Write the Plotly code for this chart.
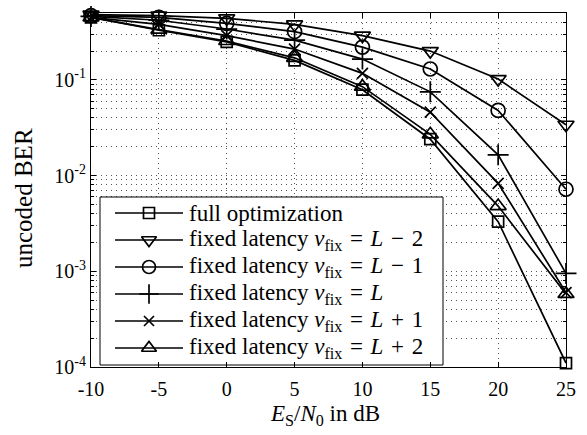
import plotly.graph_objects as go
import numpy as np

# ---------------- data ----------------
snr_db = [-10, -5, 0, 5, 10, 15, 20, 25]
ber_full_opt = [0.45, 0.33, 0.25, 0.16, 0.079, 0.024, 0.0033, 0.00011]
ber_lm2 = [0.48, 0.47, 0.44, 0.38, 0.29, 0.20, 0.102, 0.034]
ber_lm1 = [0.47, 0.45, 0.39, 0.32, 0.22, 0.13, 0.048, 0.0072]
ber_l = [0.46, 0.42, 0.34, 0.26, 0.165, 0.075, 0.0165, 0.00095]
ber_lp1 = [0.45, 0.38, 0.29, 0.21, 0.117, 0.046, 0.0083, 0.0006]
ber_lp2 = [0.45, 0.335, 0.255, 0.17, 0.085, 0.027, 0.0048, 0.00058]

SP = "\u2004"  # three-per-em space (math-like spacing)
series_names = [
    "full optimization",
    f"fixed latency <i>ν</i><sub>fix</sub>{SP}={SP}<i>L</i>{SP}−{SP}2",
    f"fixed latency <i>ν</i><sub>fix</sub>{SP}={SP}<i>L</i>{SP}−{SP}1",
    f"fixed latency <i>ν</i><sub>fix</sub>{SP}={SP}<i>L</i>",
    f"fixed latency <i>ν</i><sub>fix</sub>{SP}={SP}<i>L</i>{SP}+{SP}1",
    f"fixed latency <i>ν</i><sub>fix</sub>{SP}={SP}<i>L</i>{SP}+{SP}2",
]
series_values = [ber_full_opt, ber_lm2, ber_lm1, ber_l, ber_lp1, ber_lp2]
series_symbols = ["square-open", "triangle-down-open", "circle-open",
                  "cross-thin-open", "x-thin-open", "triangle-up-open"]
series_sizes = [11, 14, 14, 15, 11, 14]
legend_sizes = [11, 13, 13, 14, 10, 13]

x_ticks = [-10, -5, 0, 5, 10, 15, 20, 25]
y_major = [1e-4, 1e-3, 1e-2, 1e-1]
y_major_text = ["10<sup>-4</sup>", "10<sup>-3</sup>", "10<sup>-2</sup>", "10<sup>-1</sup>"]
y_minor = [m * 10.0 ** e for e in range(-4, 0) for m in range(2, 10) if m * 10.0 ** e <= 0.5]

x_title = "<i>E</i><sub>S</sub>/<i>N</i><sub>0</sub> in dB"
y_title = "uncoded BER"

# ---------------- layout geometry ----------------
W, H = 587, 435
ML, MR, MT, MB = 91, 21, 13, 68
PW, PH = W - ML - MR, H - MT - MB
FONT = "Liberation Serif"
BLACK = "#000000"

fig = go.Figure()

# data traces
for name, vals, sym, sz in zip(series_names, series_values, series_symbols, series_sizes):
    fig.add_trace(go.Scatter(
        x=snr_db, y=vals, mode="lines+markers", name=name, showlegend=False,
        line=dict(color=BLACK, width=1.7),
        marker=dict(symbol=sym, size=sz, color=BLACK, line=dict(color=BLACK, width=1.7)),
        cliponaxis=False,
    ))

# ---------------- custom legend (MATLAB style) ----------------
# legend geometry in pixel offsets from plot top-left (x2/y2 overlay axes)
box_l, box_r, box_t, box_b = 9, 352, 184, 352
row0, row_step = 200, 27
line_l, line_r, mark_x, text_x = 24, 92, 58, 96

y_lo, y_hi = np.log10(1e-4), np.log10(0.5)
def px_to_ylog(p):
    return 10 ** (y_hi - (y_hi - y_lo) * p / PH)
def px_to_x(p):
    return -10 + 35 * p / PW

# white box behind legend (covers the grid), placed in main-axis units
fig.add_shape(type="rect", xref="x", yref="y", layer="between",
              x0=px_to_x(box_l), x1=px_to_x(box_r),
              y0=px_to_ylog(box_b), y1=px_to_ylog(box_t),
              fillcolor="white", line=dict(color=BLACK, width=1))

for i, (name, sym, sz) in enumerate(zip(series_names, series_symbols, legend_sizes)):
    ry = row0 + i * row_step
    fig.add_trace(go.Scatter(
        x=[line_l, line_r], y=[ry, ry], mode="lines", xaxis="x2", yaxis="y2",
        line=dict(color=BLACK, width=1.7), showlegend=False, hoverinfo="skip"))
    fig.add_trace(go.Scatter(
        x=[mark_x], y=[ry], mode="markers", xaxis="x2", yaxis="y2",
        marker=dict(symbol=sym, size=sz, color=BLACK, line=dict(color=BLACK, width=1.7)),
        showlegend=False, hoverinfo="skip"))
    fig.add_annotation(x=text_x, y=ry, xref="x2", yref="y2", text=name,
                       showarrow=False, xanchor="left", yanchor="middle",
                       font=dict(family=FONT, size=23, color=BLACK))

# axis titles placed as annotations (paper coordinates)
fig.add_annotation(x=(325 - ML) / PW, y=1 - (431 - MT) / PH, xref="paper", yref="paper",
                   text=x_title, showarrow=False, xanchor="center", yanchor="bottom",
                   font=dict(family=FONT, size=23, color=BLACK))
fig.add_annotation(x=(23 - ML) / PW, y=1 - (198 - MT) / PH, xref="paper", yref="paper",
                   text=y_title, textangle=-90, showarrow=False,
                   xanchor="center", yanchor="middle",
                   font=dict(family=FONT, size=25, color=BLACK))

grid_dash = "1px,4px"
GRID = "#555555"
fig.update_layout(
    width=W, height=H,
    margin=dict(l=ML, r=MR, t=MT, b=MB, autoexpand=False),
    paper_bgcolor="white", plot_bgcolor="white",
    font=dict(family=FONT, size=20, color=BLACK),
    showlegend=False,
    xaxis=dict(
        range=[-10, 25], tickvals=x_ticks, ticktext=[str(v) for v in x_ticks],
        ticks="inside", ticklen=5, tickcolor=BLACK, showline=True, linecolor=BLACK,
        linewidth=1, mirror="ticks", showgrid=True, gridcolor=GRID,
        griddash=grid_dash, gridwidth=1, zeroline=False, ticklabelstandoff=4,
        tickfont=dict(size=20), automargin=False,
    ),
    yaxis=dict(
        type="log", range=[y_lo, y_hi], tickvals=y_major, ticktext=y_major_text,
        ticks="inside", ticklen=5, tickcolor=BLACK, showline=True, linecolor=BLACK,
        linewidth=1, mirror="ticks", showgrid=True, gridcolor=GRID,
        griddash=grid_dash, gridwidth=1, zeroline=False,
        minor=dict(tickvals=y_minor, ticks="inside", ticklen=3, tickcolor=BLACK,
                   showgrid=True, gridcolor=GRID, griddash=grid_dash, gridwidth=1),
        tickfont=dict(size=20), automargin=False,
    ),
    xaxis2=dict(overlaying="x", range=[0, PW], visible=False, fixedrange=True),
    yaxis2=dict(overlaying="y", range=[PH, 0], visible=False, fixedrange=True),
)

fig.write_html("out.html", config={"displayModeBar": False},
               post_script="document.body.style.margin='0px';document.body.style.overflow='hidden';")
